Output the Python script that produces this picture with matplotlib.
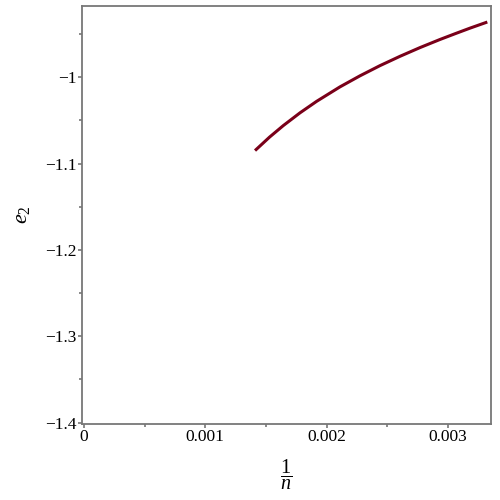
import matplotlib
matplotlib.use("Agg")
import matplotlib.pyplot as plt
from matplotlib.ticker import MultipleLocator, FuncFormatter

plt.rcParams['font.family'] = ['Liberation Serif', 'DejaVu Serif']
plt.rcParams['mathtext.fontset'] = 'custom'
plt.rcParams['mathtext.rm'] = 'Liberation Serif'
plt.rcParams['mathtext.it'] = 'Liberation Serif:italic'

inv_n = [0.001410, 0.001530, 0.001643, 0.001781, 0.001918, 0.002110, 0.002275,
         0.002440, 0.002605, 0.002770, 0.002935, 0.003060, 0.003182, 0.003325]
e2 = [-1.0850, -1.0694, -1.0561, -1.0413, -1.0280, -1.0113, -0.9985,
      -0.9867, -0.9759, -0.9658, -0.9564, -0.9497, -0.9433, -0.9362]

fig = plt.figure(figsize=(5, 5), dpi=100)
ax = fig.add_axes([0.164, 0.1526, 0.8174, 0.836])
ax.plot(inv_n, e2, color='#7a0019', lw=2.2, solid_capstyle='butt', solid_joinstyle='round')
ax.set_xlim(-0.0000165, 0.003353)
ax.set_ylim(-1.4012, -0.9173)

ax.xaxis.set_major_locator(MultipleLocator(0.001))
ax.xaxis.set_minor_locator(MultipleLocator(0.0005))
ax.yaxis.set_major_locator(MultipleLocator(0.1))
ax.yaxis.set_minor_locator(MultipleLocator(0.05))

def xf(v, p):
    if abs(v) < 1e-12:
        return '0'
    return f'{v:.3f}'
def yf(v, p):
    s = f'{v:.1f}'
    if s.endswith('.0'):
        s = s[:-2]
    return s.replace('-', '\u2212')
ax.xaxis.set_major_formatter(FuncFormatter(xf))
ax.yaxis.set_major_formatter(FuncFormatter(yf))

for s in ax.spines.values():
    s.set_color('#777777')
    s.set_linewidth(1.3)
ax.tick_params(which='both', direction='out', color='#777777', width=1.2, labelsize=12.5, pad=1)
ax.tick_params(which='major', length=3)
ax.tick_params(which='minor', length=2)

ax.set_xlabel(r'$\dfrac{1}{n}$', fontsize=14.5, labelpad=9)
ax.set_ylabel(r'$e_2$', fontsize=16, labelpad=9)

fig.savefig('out.png', dpi=100)
